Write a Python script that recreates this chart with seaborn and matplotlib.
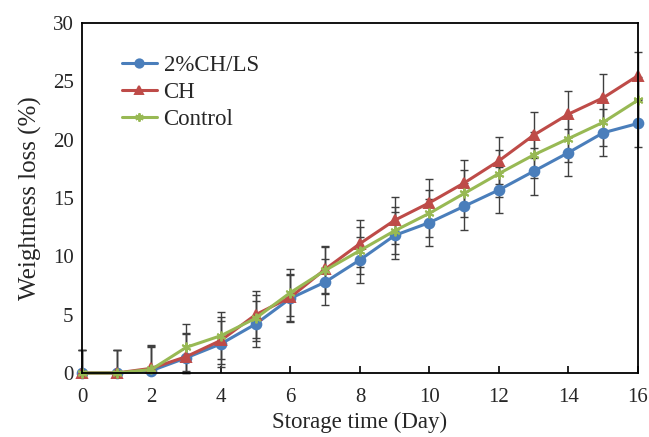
import numpy as np
import pandas as pd
import matplotlib
matplotlib.use("Agg")
import matplotlib.pyplot as plt
import seaborn as sns

days = list(range(0, 17))
chls = [0, 0, 0.2, 1.3, 2.5, 4.2, 6.4, 7.8, 9.7, 11.8, 12.9, 14.3, 15.7, 17.3, 18.9, 20.6, 21.4]
ch = [0, 0, 0.4, 1.4, 2.8, 5.0, 6.5, 8.9, 11.1, 13.1, 14.6, 16.3, 18.2, 20.4, 22.2, 23.6, 25.5]
control = [0, 0, 0.3, 2.2, 3.2, 4.7, 6.9, 8.8, 10.5, 12.2, 13.7, 15.4, 17.1, 18.7, 20.1, 21.5, 23.4]
err = 2.0
series_names = ["2%CH/LS", "CH", "Control"]
x_ticks = [0, 2, 4, 6, 8, 10, 12, 14, 16]
y_ticks = [0, 5, 10, 15, 20, 25, 30]

sns.set_theme(style="white")
plt.rcParams['font.family'] = ['Liberation Serif', 'DejaVu Serif']

colors = {"2%CH/LS": "#4A7EBB", "CH": "#BE4B48", "Control": "#98B954"}
markers = {"2%CH/LS": "o", "CH": "^", "Control": (6, 2, 0)}

fig = plt.figure(figsize=(6.49, 4.37), dpi=100)
ax = fig.add_axes([0.1263, 0.1465, 0.8567, 0.8005])

for name, vals in zip(series_names, [chls, ch, control]):
    v = np.array(vals, dtype=float)
    lower = np.minimum(err, v)  # the chart's axis cuts bars at 0
    upper = np.full_like(v, err)
    eb = ax.errorbar(days, v, yerr=[lower, upper], fmt="none", ecolor="#3f3f3f",
                     elinewidth=1.0, capsize=3, capthick=1.0, zorder=2)
    for child in eb.get_children():
        child.set_clip_on(False)

for name, vals in zip(series_names, [chls, ch, control]):
    d = pd.DataFrame({"day": days, "loss": vals})
    sns.lineplot(data=d, x="day", y="loss", color=colors[name], marker=markers[name],
                 linewidth=2.2, markersize=7, markeredgewidth=1.4,
                 markeredgecolor=colors[name], ax=ax, zorder=3, label=name)
for line in ax.lines:
    line.set_clip_on(False)

ax.set_xlim(0, 16)
ax.set_ylim(0, 30)
ax.set_xticks(x_ticks)
ax.set_yticks(y_ticks)
ax.set_xlabel("Storage time (Day)", fontsize=16.5, labelpad=3)
ax.set_ylabel("Weightness loss (%)", fontsize=18, labelpad=8)
ax.tick_params(axis="x", direction="in", length=5, width=1.2, color="black",
               labelsize=15, pad=11, bottom=True)
ax.tick_params(axis="y", length=0, labelsize=15, pad=6)
for s in ax.spines.values():
    s.set_visible(True)
    s.set_color("black")
    s.set_linewidth(1.3)
    s.set_zorder(4)

leg = ax.legend(loc="upper left", bbox_to_anchor=(0.056, 0.935), frameon=False,
                fontsize=16.5, handlelength=1.5, handletextpad=0.3, labelspacing=0.25,
                borderaxespad=0)
for h in leg.legend_handles:
    h.set_markersize(6)
    h.set_linewidth(2.2)

fig.savefig("out.png", dpi=100)
